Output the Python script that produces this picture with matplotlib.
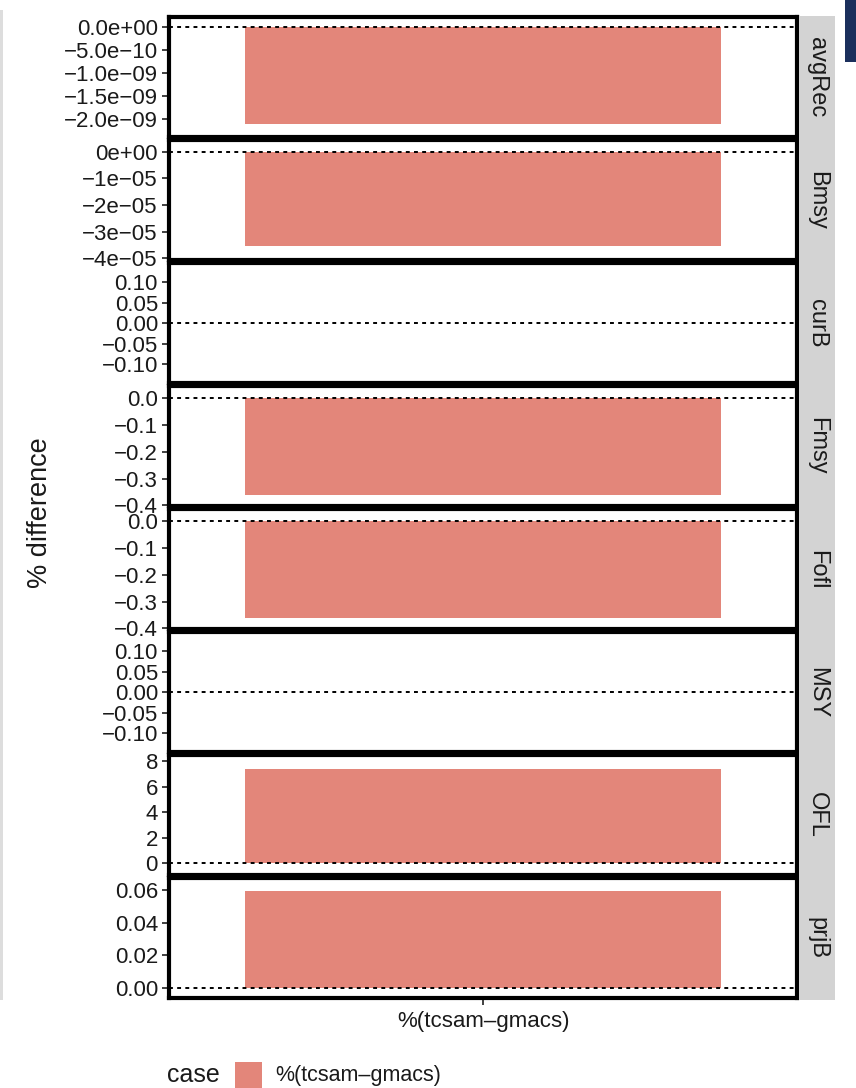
import matplotlib
matplotlib.use("Agg")
import matplotlib.pyplot as plt
from matplotlib.patches import Rectangle

plt.rcParams['font.family'] = ['Liberation Sans', 'DejaVu Sans']

# ---- data -------------------------------------------------------------
variables = ["avgRec", "Bmsy", "curB", "Fmsy", "Fofl", "MSY", "OFL", "prjB"]
case_name = "%(tcsam\u2013gmacs)"
pct_diff = [-2.1e-09, -3.55e-05, 0.0, -0.36, -0.36, 0.0, 7.37, 0.0592]

y_ticks = [
    [0.0, -5e-10, -1e-09, -1.5e-09, -2e-09],
    [0.0, -1e-05, -2e-05, -3e-05, -4e-05],
    [0.10, 0.05, 0.0, -0.05, -0.10],
    [0.0, -0.1, -0.2, -0.3, -0.4],
    [0.0, -0.1, -0.2, -0.3, -0.4],
    [0.10, 0.05, 0.0, -0.05, -0.10],
    [8, 6, 4, 2, 0],
    [0.06, 0.04, 0.02, 0.0],
]
y_tick_labels = [
    ["0.0e+00", "\u22125.0e\u221210", "\u22121.0e\u221209", "\u22121.5e\u221209", "\u22122.0e\u221209"],
    ["0e+00", "\u22121e\u221205", "\u22122e\u221205", "\u22123e\u221205", "\u22124e\u221205"],
    ["0.10", "0.05", "0.00", "\u22120.05", "\u22120.10"],
    ["0.0", "\u22120.1", "\u22120.2", "\u22120.3", "\u22120.4"],
    ["0.0", "\u22120.1", "\u22120.2", "\u22120.3", "\u22120.4"],
    ["0.10", "0.05", "0.00", "\u22120.05", "\u22120.10"],
    ["8", "6", "4", "2", "0"],
    ["0.06", "0.04", "0.02", "0.00"],
]
y_limits = [
    (-2.40e-09, 0.21e-09),
    (-4.07e-05, 0.43e-05),
    (-0.147, 0.147),
    (-0.404, 0.045),
    (-0.404, 0.045),
    (-0.147, 0.147),
    (-0.94, 8.44),
    (-0.0065, 0.0672),
]

# ---- layout (pixels) --------------------------------------------------
W, H = 856, 1088
fig = plt.figure(figsize=(W / 100, H / 100), dpi=100)
fig.patch.set_facecolor("white")

def fx(px):
    return px / W

def fy(py):
    return 1 - py / H

bar_color = "#E3867A"
strip_color = "#D3D3D3"
text_color = "#1A1A1A"
left_px, right_px = 169, 797
strip_right = 835
top0, pitch, gap = 15.8, 123.0, 1.5

axes = []
for i, (name, val) in enumerate(zip(variables, pct_diff)):
    top = top0 + pitch * i + gap
    bot = top0 + pitch * (i + 1) - gap
    ax = fig.add_axes([fx(left_px), fy(bot), fx(right_px) - fx(left_px), fy(top) - fy(bot)])
    ax.bar([1], [val], width=0.9, color=bar_color, zorder=2)
    ax.axhline(0, color="black", lw=1.4, ls=(0, (2, 2.2)), zorder=3)
    ax.set_xlim(0.4065, 1.5935)
    ax.set_ylim(*y_limits[i])
    ax.set_yticks(y_ticks[i])
    ax.set_yticklabels(y_tick_labels[i])
    ax.tick_params(axis="y", length=5, width=1.3, color="#333333", labelsize=16,
                   labelcolor=text_color, pad=3)
    for sp in ax.spines.values():
        sp.set_linewidth(3.0)
        sp.set_color("black")
    if i < len(variables) - 1:
        ax.set_xticks([])
    else:
        ax.set_xticks([1])
        ax.set_xticklabels([case_name])
        ax.tick_params(axis="x", length=5, width=1.3, color="#333333", labelsize=16,
                       labelcolor=text_color, pad=4)
    # facet strip on the right
    s_top = top0 + pitch * i
    s_bot = top0 + pitch * (i + 1)
    fig.patches.append(Rectangle((fx(right_px + 2), fy(s_bot)), fx(strip_right) - fx(right_px + 2),
                                 fy(s_top) - fy(s_bot), transform=fig.transFigure,
                                 facecolor=strip_color, edgecolor="none", zorder=0))
    fig.text(fx((right_px + 2 + strip_right) / 2), fy((s_top + s_bot) / 2), name,
             rotation=270, ha="center", va="center", fontsize=17, color=text_color)
    axes.append(ax)

# y-axis title
fig.text(fx(40), fy(513), "% difference", rotation=90, ha="center", va="center",
         fontsize=19.5, color=text_color)

# legend
fig.text(fx(167), fy(1075), "case", ha="left", va="center", fontsize=18, color=text_color)
fig.patches.append(Rectangle((fx(235), fy(1088)), fx(262) - fx(235), fy(1062) - fy(1088),
                             transform=fig.transFigure, facecolor=bar_color, edgecolor="none"))
fig.text(fx(275), fy(1075), case_name, ha="left", va="center", fontsize=15.5, color=text_color)

# page edge decorations
fig.patches.append(Rectangle((0, fy(1000)), fx(2.5), fy(10) - fy(1000), transform=fig.transFigure,
                             facecolor="#DDDDDD", edgecolor="none"))
fig.patches.append(Rectangle((fx(845), fy(62)), fx(856) - fx(845), fy(0) - fy(62),
                             transform=fig.transFigure, facecolor="#1B2F5C", edgecolor="none"))

fig.savefig("out.png", dpi=100, facecolor="white")
